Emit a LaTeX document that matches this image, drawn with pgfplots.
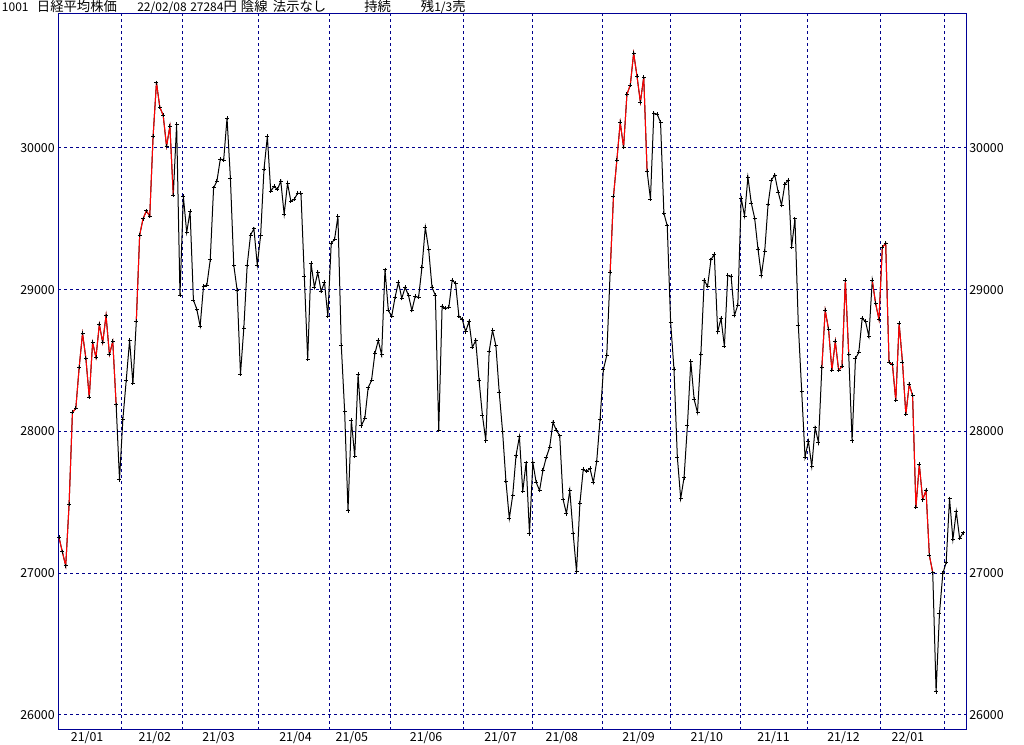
\documentclass[border=0pt]{standalone}
\usepackage{fontspec}
\setmainfont{Noto Sans CJK JP}
\usepackage{pgfplots}
\usepackage{pgfplotstable}
\pgfplotsset{compat=1.18}
\definecolor{frame}{RGB}{0,0,150}
\definecolor{gridc}{RGB}{0,0,140}
\newcommand{\dg}[1]{{\fontsize{9}{10}\selectfont #1}}
\pgfplotstableread{
i v
0 27252
1 27150
2 27052
3 27485
4 28134
5 28162
6 28452
7 28692
8 28515
9 28240
10 28628
11 28522
12 28755
13 28628
14 28818
15 28543
16 28635
17 28190
18 27661
19 28085
20 28360
21 28642
22 28339
23 28776
24 29384
25 29500
26 29556
27 29519
28 30082
29 30461
30 30287
31 30230
32 30012
33 30153
34 29666
35 30167
36 28962
37 29659
38 29404
39 29553
40 28927
41 28863
42 28743
43 29026
44 29033
45 29210
46 29718
47 29767
48 29922
49 29915
50 30211
51 29788
52 29174
53 28998
54 28405
55 28730
56 29174
57 29386
58 29430
59 29174
60 29384
61 29850
62 30082
63 29694
64 29729
65 29708
66 29765
67 29532
68 29751
69 29624
70 29638
71 29680
72 29680
73 29094
74 28508
75 29186
76 29016
77 29122
78 28988
79 29052
80 28812
81 29327
82 29355
83 29518
84 28607
85 28141
86 27442
87 28078
88 27824
89 28402
90 28042
91 28092
92 28310
93 28360
94 28550
95 28642
96 28541
97 29141
98 28854
99 28812
100 28946
101 29052
102 28939
103 29016
104 28960
105 28854
106 28953
107 28946
108 29157
109 29440
110 29284
111 29016
112 28960
113 28007
114 28883
115 28868
116 28875
117 29066
118 29045
119 28812
120 28790
121 28705
122 28776
123 28593
124 28642
125 28360
126 28113
127 27936
128 28565
129 28713
130 28607
131 28276
132 27998
133 27647
134 27386
135 27548
136 27830
137 27964
138 27577
139 27781
140 27280
141 27781
142 27640
143 27584
144 27725
145 27817
146 27888
147 28064
148 28007
149 27971
150 27520
151 27421
152 27584
153 27280
154 27012
155 27492
156 27732
157 27718
158 27739
159 27640
160 27788
161 28085
162 28438
163 28536
164 29122
165 29659
166 29913
167 30181
168 30005
169 30379
170 30443
171 30669
172 30506
173 30323
174 30500
175 29836
176 29639
177 30245
178 30238
179 30181
180 29539
181 29450
182 28772
183 28440
184 27819
185 27527
186 27675
187 28042
188 28494
189 28226
190 28134
191 28543
192 29066
193 29023
194 29213
195 29249
196 28705
197 28797
198 28600
199 29101
200 29094
201 28819
202 28892
203 29647
204 29520
205 29795
206 29611
207 29506
208 29287
209 29101
210 29270
211 29603
212 29774
213 29809
214 29689
215 29597
216 29745
217 29774
218 29301
219 29499
220 28751
221 28285
222 27819
223 27932
224 27753
225 28026
226 27922
227 28452
228 28854
229 28720
230 28431
231 28635
232 28431
233 28459
234 29066
235 28543
236 27935
237 28515
238 28558
239 28797
240 28776
241 28670
242 29066
243 28903
244 28790
245 29298
246 29327
247 28487
248 28473
249 28219
250 28762
251 28487
252 28120
253 28332
254 28254
255 27464
256 27767
257 27520
258 27584
259 27125
260 27005
261 26165
262 26716
263 26998
264 27076
265 27527
266 27238
267 27435
268 27245
269 27284
}\nikkei
\pgfplotsset{
  common/.style={
    at={(43.5pt,11.25pt)}, anchor=south west, scale only axis,
    width=681pt, height=537pt,
    xmin=-0.3, xmax=269.9, ymin=25894, ymax=30945,
    major tick length=0pt,
    ytick={26000,27000,28000,29000,30000},
    scaled y ticks=false,
    /pgf/number format/1000 sep={},
    /pgf/number format/assume math mode=true,
    yticklabel={\pgfmathprintnumber[fixed,precision=0,1000 sep={},assume math mode=true]{\tick}},
    tick label style={font=\fontsize{9.3}{11}\selectfont, text=black},
  }
}
\begin{document}
\begin{tikzpicture}
\path[use as bounding box] (0,0) rectangle (768pt,558.75pt);
\begin{axis}[common,
  axis line style={draw=frame, line width=0.75pt},
  xtick={3.48,23.63,42.55,65.46,82.25,104.36,126.47,144.74,167.53,187.88,207.70,228.53,247.69},
  xticklabels={21/01,21/02,21/03,21/04,21/05,21/06,21/07,21/08,21/09,21/10,21/11,21/12,22/01},
  xticklabel style={anchor=north west, inner sep=0pt, yshift=-1.2pt},
  yticklabel style={anchor=east, inner sep=0pt, xshift=-2.3pt},
  ymajorgrids=true,
  extra x ticks={18.45,36.6,59.5,80.6,98.5,120.5,140.75,161.6,181.9,202.8,222.7,244.6,263.6},
  extra x tick labels={,,,,,,,,,,,,},
  extra x tick style={xmajorgrids=true},
  grid style={draw=gridc, line width=0.75pt, dash pattern=on 2.6pt off 1.9pt},
]
\addplot[black, line width=0.75pt, no markers] table[x=i,y=v] {\nikkei};
\addplot[red, line width=0.75pt, no markers, restrict x to domain=0:17] table[x=i,y=v] {\nikkei};
\addplot[red, line width=0.75pt, no markers, restrict x to domain=23:34] table[x=i,y=v] {\nikkei};
\addplot[red, line width=0.75pt, no markers, restrict x to domain=164:175] table[x=i,y=v] {\nikkei};
\addplot[red, line width=0.75pt, no markers, restrict x to domain=227:235] table[x=i,y=v] {\nikkei};
\addplot[red, line width=0.75pt, no markers, restrict x to domain=242:260] table[x=i,y=v] {\nikkei};
\addplot[only marks, mark=+, mark size=1.5pt, mark options={black, line width=0.7pt}] table[x=i,y=v] {\nikkei};
\end{axis}
\begin{axis}[common,
  hide x axis,
  axis y line*=right,
  axis line style={draw=frame, line width=0.75pt},
  yticklabel pos=right,
  yticklabel style={anchor=west, inner sep=0pt, xshift=2.3pt},
]
\addplot[draw=none] coordinates {(0,27000)};
\end{axis}
\begin{scope}[font=\fontsize{10}{11}\selectfont, inner sep=0pt]
\node[anchor=base west] at (1.3pt,550pt) {\dg{1001}};
\node[anchor=base west] at (27.5pt,550pt) {日経平均株価};
\node[anchor=base west] at (102.8pt,550pt) {\dg{22/02/08}};
\node[anchor=base west] at (142.5pt,550pt) {\dg{27284}円};
\node[anchor=base west] at (180.5pt,550pt) {陰線};
\node[anchor=base west] at (204.5pt,550pt) {法示なし};
\node[anchor=base west] at (273pt,550pt) {持続};
\node[anchor=base west] at (315.5pt,550pt) {残\dg{1/3}売};
\end{scope}
\end{tikzpicture}
\end{document}
